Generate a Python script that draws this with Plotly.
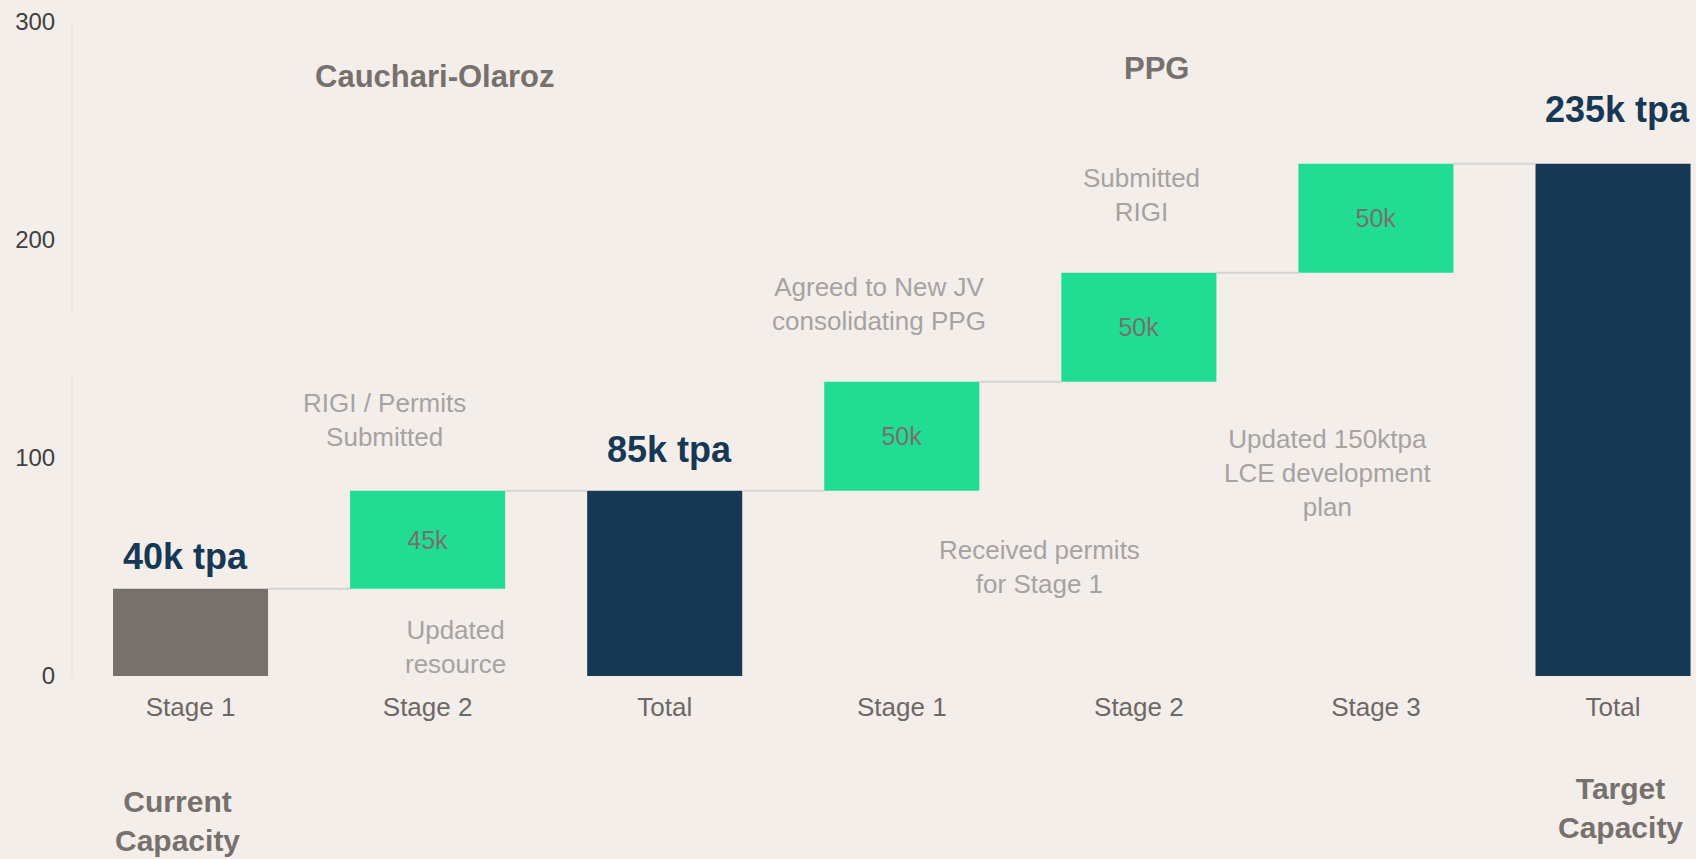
import plotly.graph_objects as go

# datos del gráfico (ktpa)
categorias = ["Stage 1", "Stage 2", "Total", "Stage 1", "Stage 2", "Stage 3", "Total"]
tipo = ["actual", "sube", "total", "sube", "sube", "sube", "total"]
valores = [40, 45, 85, 50, 50, 50, 235]
etiquetas_total = ["40k tpa", "85k tpa", "235k tpa"]
notas = [
    "RIGI / Permits<br>Submitted",
    "Updated<br>resource",
    "Agreed to New JV<br>consolidating PPG",
    "Received permits<br>for Stage 1",
    "Submitted<br>RIGI",
    "Updated 150ktpa<br>LCE development<br>plan",
]
grupos = ["Cauchari-Olaroz", "PPG"]
capacidad = ["Current<br>Capacity", "Target<br>Capacity"]

FONDO = "#f4eeeb"
VERDE = "#21dc93"
AZUL = "#163855"
GRIS = "#77716d"
GRIS_TXT = "#a6a3a1"
FUENTE = "Liberation Sans, Arial, sans-serif"

# base de cada barra: las totales arrancan en 0, las demás sobre el acumulado
bases = []
acum = 0
for t, v in zip(tipo, valores):
    if t == "sube":
        bases.append(acum)
        acum += v
    else:
        bases.append(0)
        acum = v
colores = [GRIS if t == "actual" else (VERDE if t == "sube" else AZUL) for t in tipo]
textos = [f"{v}k" if t == "sube" else "" for t, v in zip(tipo, valores)]

ancho = 0.654
xs = list(range(len(categorias)))

# conectores
cx, cy = [], []
for i in range(len(xs) - 1):
    nivel = bases[i] + valores[i]
    cx += [i + ancho / 2, i + 1 - ancho / 2, None]
    cy += [nivel, nivel, None]

fig = go.Figure()
fig.add_trace(go.Scatter(x=cx, y=cy, mode="lines", line=dict(color="#d6d4d2", width=2),
                         hoverinfo="skip"))
fig.add_trace(go.Bar(
    x=xs, y=valores, base=bases, width=ancho,
    marker=dict(color=colores, line=dict(width=0)),
    text=textos, textposition="inside", insidetextanchor="middle",
    textfont=dict(color=GRIS, size=25, family=FUENTE),
    hoverinfo="skip",
))

anots = []
# etiquetas de totales
for x, y, t in zip([-0.02, 2.02, 6.02], [54.6, 104, 260], etiquetas_total):
    anots.append(dict(x=x, y=y, yref="y", text=f"<b>{t}</b>",
                      font=dict(size=36, color=AZUL, family=FUENTE)))
# notas grises
pos_notas = [(0.816, 117.4), (1.116, 13.3), (2.905, 170.6), (3.58, 50), (4.01, 220.5), (4.795, 93)]
for (x, y), t in zip(pos_notas, notas):
    anots.append(dict(x=x, y=y, yref="y", text=t,
                      font=dict(size=26, color=GRIS_TXT, family=FUENTE)))
# nombres de proyectos
for (x, y), t in zip([(1.027, 275), (4.074, 278.8)], grupos):
    anots.append(dict(x=x, y=y, yref="y", text=f"<b>{t}</b>",
                      font=dict(size=31, color=GRIS, family=FUENTE)))
# debajo del eje (en coordenadas paper para que no se oculten)
for (x, y), t in zip([(-0.057, -0.222), (6.03, -0.202)], capacidad):
    anots.append(dict(x=x, y=y, yref="paper", text=f"<b>{t}</b>",
                      font=dict(size=30, color=GRIS, family=FUENTE)))
for a in anots:
    a.update(xref="x", showarrow=False, xanchor="center", yanchor="middle")

fig.update_layout(
    width=1696, height=859,
    margin=dict(l=72, r=0, t=22, b=183),
    plot_bgcolor=FONDO, paper_bgcolor=FONDO,
    showlegend=False,
    annotations=anots,
    xaxis=dict(range=[-0.5, 6.35], tickvals=xs, ticktext=categorias, showgrid=False,
               zeroline=False, showline=False, ticks="outside", ticklen=8, tickcolor=FONDO,
               tickfont=dict(size=26, color="#6d6865", family=FUENTE)),
    yaxis=dict(range=[0, 300], tickvals=[0, 100, 200, 300], showgrid=False, zeroline=False,
               showline=False, ticks="outside", ticklen=11, tickcolor=FONDO,
               tickfont=dict(size=24, color="#404040", family=FUENTE)),
    shapes=[
        dict(type="line", xref="paper", yref="y", x0=0, x1=0, y0=0, y1=139,
             line=dict(color="#e9e4e1", width=1.5)),
        dict(type="line", xref="paper", yref="y", x0=0, x1=0, y0=166, y1=300,
             line=dict(color="#e9e4e1", width=1.5)),
    ],
)

fig.write_html("out.html", config={"displayModeBar": False},
               post_script="document.body.style.margin='0';"
                           "document.body.style.background='#f4eeeb';")
